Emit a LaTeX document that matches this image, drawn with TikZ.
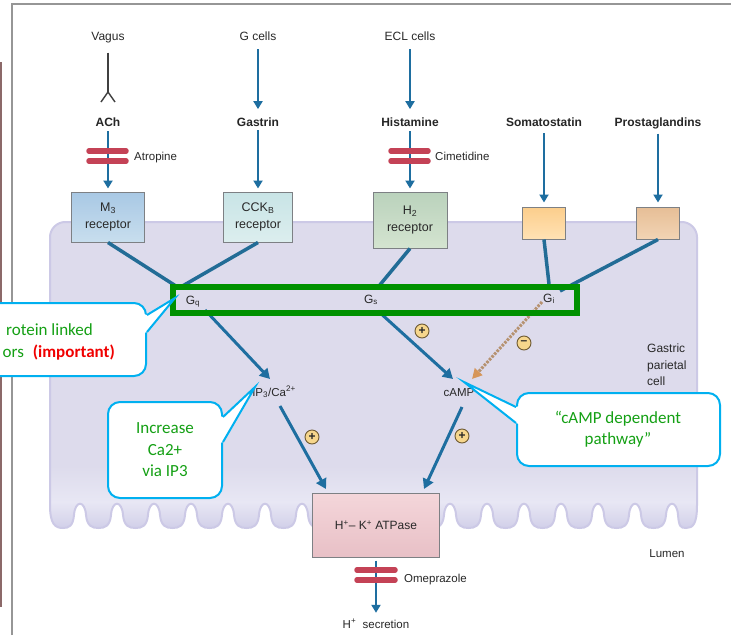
\documentclass[tikz,border=0pt]{standalone}
\usepackage{fontspec}
\setmainfont{Liberation Sans}
\newfontfamily\calibfont{Carlito}
\usetikzlibrary{arrows.meta,calc}
\definecolor{arrblue}{RGB}{30,110,160}
\definecolor{lineblue}{RGB}{34,108,150}
\definecolor{cellfill}{RGB}{221,219,236}
\definecolor{cellband}{RGB}{232,231,244}
\definecolor{celllobe}{RGB}{208,206,232}
\definecolor{celledge}{RGB}{204,201,230}
\definecolor{barred}{RGB}{196,66,86}
\definecolor{txtgray}{RGB}{40,40,40}
\definecolor{boxborder}{RGB}{125,128,132}
\definecolor{gboxc}{RGB}{0,145,0}
\definecolor{callblue}{RGB}{0,176,240}
\definecolor{callgreen}{RGB}{20,160,20}
\definecolor{impred}{RGB}{240,0,0}
\definecolor{framegray}{RGB}{150,150,150}
\definecolor{edgebrown}{RGB}{140,105,105}
\definecolor{mtop}{RGB}{168,200,228}
\definecolor{mbot}{RGB}{200,222,238}
\definecolor{ctop}{RGB}{200,228,230}
\definecolor{cbot}{RGB}{220,238,238}
\definecolor{htop}{RGB}{186,210,188}
\definecolor{hbot}{RGB}{212,228,208}
\definecolor{stop}{RGB}{252,206,140}
\definecolor{sbot}{RGB}{255,226,180}
\definecolor{ptop}{RGB}{230,190,150}
\definecolor{pbot}{RGB}{242,212,180}
\definecolor{atop}{RGB}{244,214,218}
\definecolor{abot}{RGB}{232,192,198}
\definecolor{signfill}{RGB}{246,214,140}
\definecolor{signedge}{RGB}{110,90,50}
\definecolor{dashtan}{RGB}{182,146,112}
\definecolor{tiporange}{RGB}{214,150,90}
\newcommand\cellshape{(50,237) .. controls (50,229) and (57,222) .. (65,222) -- (682,222)
 .. controls (690,222) and (697,229) .. (697,237) -- (697,505)
 .. controls (697,524) and (693,528) .. (686,528)
 .. controls (680,528) and (679,526) .. (678,515)
 .. controls (677,500) and (667,500) .. (666,515)
 \foreach \c in {635,598,...,80} {
   .. controls (\c+30,526) and (\c+25,528) .. (\c+18.5,528)
   .. controls (\c+12,528) and (\c+7,526) .. (\c+6,515)
   .. controls (\c+5,500) and (\c-5,500) .. (\c-6,515)
 }
 .. controls (73,526) and (69,528) .. (63,528)
 .. controls (55,528) and (50,524) .. (50,505) -- cycle}
\begin{document}
\begin{tikzpicture}[x=1pt,y=-1pt,
  lbl/.style={inner sep=0pt, text=txtgray, font=\fontsize{12}{14}\selectfont},
  blbl/.style={inner sep=0pt, text=black!85, font=\fontsize{12}{14}\selectfont\bfseries},
  smlbl/.style={inner sep=0pt, text=txtgray, font=\fontsize{11.5}{13}\selectfont},
  glbl/.style={inner sep=0pt, text=txtgray, font=\fontsize{12}{13}\selectfont},
  rbox/.style={draw=boxborder, line width=1pt, inner sep=0pt, align=center, text=txtgray, font=\fontsize{12.5}{17}\selectfont},
  inarrow/.style={draw=arrblue, line width=2pt, -{Triangle[length=8pt,width=9pt]}},
  vline/.style={draw=black!75, line width=1.4pt},
  drugbar/.style={draw=barred, line width=5.5pt, line cap=round},
  gline/.style={draw=lineblue, line width=3.5pt},
  carrow/.style={draw=arrblue, line width=3pt, -{Triangle[length=10pt,width=11pt]}},
  sign/.style={circle, draw=signedge, fill=signfill, line width=0.9pt, minimum size=14pt, inner sep=0pt, text=black!85, font=\fontsize{12}{12}\selectfont\bfseries},
  callout/.style={draw=callblue, fill=white, line width=2pt, rounded corners=12pt, inner sep=0pt},
  ctext/.style={inner sep=0pt, align=center, text=callgreen, font=\calibfont\fontsize{17}{21.5}\selectfont},
]
\useasboundingbox (0,0) rectangle (731,635);
\fill[white] (0,0) rectangle (731,635);
\clip (0,0) rectangle (731,635);

% page frame remnants
\draw[framegray, line width=1.2pt] (12,635) -- (12,4) -- (731,4);
\draw[edgebrown, line width=1.5pt] (0.75,62) -- (0.75,607);

% parietal cell body
\fill[cellfill] \cellshape;
\begin{scope}
  \clip \cellshape;
  \shade[top color=cellfill, bottom color=cellband] (40,466) rectangle (710,502);
  \shade[top color=cellband, bottom color=celllobe] (40,502) rectangle (710,530);
\end{scope}
\draw[celledge, line width=2pt] \cellshape;

% top labels
\node[lbl, anchor=base] (vagus) at (108,40) {Vagus};
\node[lbl, anchor=base] (gcells) at (258,40) {G cells};
\node[lbl, anchor=base] (ecl) at (410,40) {ECL cells};
\node[blbl, anchor=base] (ach) at (108,126) {ACh};
\node[blbl, anchor=base] (gastrin) at (258,126) {Gastrin};
\node[blbl, anchor=base] (hist) at (410,126) {Histamine};
\node[blbl, anchor=base] (somato) at (544,126) {Somatostatin};
\node[blbl, anchor=base] (prosta) at (658,126) {Prostaglandins};

% receptors
\node[rbox, minimum width=73pt, minimum height=50pt, top color=mtop, bottom color=mbot] (m3) at (108,217) {M\textsubscript{3}\\receptor};
\node[rbox, minimum width=69pt, minimum height=50pt, top color=ctop, bottom color=cbot] (cck) at (258,217) {CCK\textsubscript{B}\\receptor};
\node[rbox, minimum width=74pt, minimum height=56pt, top color=htop, bottom color=hbot] (h2) at (410,220) {H\textsubscript{2}\\receptor};
\node[rbox, minimum width=43pt, minimum height=32pt, top color=stop, bottom color=sbot] (sbox) at (544,223) {};
\node[rbox, minimum width=43pt, minimum height=32pt, top color=ptop, bottom color=pbot] (pbox) at (658,223) {};

% inputs
\coordinate (vfork) at (108,92);
\draw[vline, shorten <=10pt] (vagus) -- (vfork);
\draw[vline] (vfork) -- ++(-7,10);
\draw[vline] (vfork) -- ++(7,10);
\draw[inarrow, shorten <=9pt, shorten >=8pt] (gcells) -- (gastrin);
\draw[inarrow, shorten <=9pt, shorten >=8pt] (ecl) -- (hist);
\draw[inarrow, shorten <=5pt, shorten >=3pt] (ach) -- (m3);
\draw[inarrow, shorten <=4pt, shorten >=3pt] (gastrin) -- (cck);
\draw[inarrow, shorten <=5pt, shorten >=3pt] (hist) -- (h2);
\draw[inarrow, shorten <=7pt, shorten >=4pt] (somato) -- (sbox);
\draw[inarrow, shorten <=5pt, shorten >=4pt] (prosta) -- (pbox);

% blockers
\draw[drugbar] (89,151) -- (126,151);
\draw[drugbar] (89,161) -- (126,161);
\node[smlbl, anchor=base west] (atropine) at (134,160) {Atropine};
\draw[drugbar] (391,151) -- (428,151);
\draw[drugbar] (391,161) -- (428,161);
\node[smlbl, anchor=base west] (cimet) at (435,160) {Cimetidine};

% G protein hubs
\coordinate (gqhub) at (179,288);
\coordinate (gshub) at (379,286);
\coordinate (gihub) at (549,284);
\coordinate (gihub2) at (560,291);
\draw[gline] (m3.south) -- (gqhub);
\draw[gline] (cck.south) -- (gqhub);
\draw[gline] (h2.south) -- (gshub);
\draw[gline] (sbox.south) -- (gihub);
\draw[gline] (pbox.south) -- (gihub2);

% signalling arrows
\coordinate (gqout) at (205,310);
\coordinate (ip3in) at (270,379);
\coordinate (gsout) at (378,311);
\coordinate (campin) at (453,379);
\coordinate (giout) at (542,302);
\coordinate (campin2) at (472,379);
\coordinate (ip3out) at (280,406);
\coordinate (atpin1) at (326,489);
\coordinate (campout) at (462,407);
\coordinate (atpin2) at (424,489);
\draw[carrow] (gqout) -- (ip3in);
\draw[carrow] (gsout) -- (campin);
\draw[draw=dashtan, line width=3pt, dash pattern=on 2.5pt off 1.3pt, -{Triangle[length=10pt,width=10pt,color=tiporange]}] (giout) -- (campin2);
\draw[carrow] (ip3out) -- (atpin1);
\draw[carrow] (campout) -- (atpin2);

% highlighted G proteins
\node[draw=gboxc, line width=6pt, minimum width=404pt, minimum height=26pt, inner sep=0pt] (grect) at (375,300) {};
\node[glbl, anchor=base] (gq) at (193,304) {G\textsubscript{q}};
\node[glbl, anchor=base] (gs) at (371,303) {G\textsubscript{s}};
\node[glbl, anchor=base] (gi) at (549,302) {G\textsubscript{i}};

\node[smlbl, anchor=base] (ip3) at (274,396) {IP\textsubscript{3}/Ca\textsuperscript{2+}};
\node[smlbl, anchor=base] (camp) at (459,396) {cAMP};

\node[sign] (s1) at (422,331) {+};
\node[sign] (s2) at (524,343) {\raisebox{0.5pt}{–}};
\node[sign] (s3) at (312,437) {+};
\node[sign] (s4) at (462,436) {+};

% pump
\node[rbox, minimum width=127pt, minimum height=64pt, top color=atop, bottom color=abot, font=\fontsize{12}{14}\selectfont] (atp) at (376,525) {H\textsuperscript{+}– K\textsuperscript{+} ATPase};
\node[smlbl, anchor=base] (hsec) at (376,628) {H\textsuperscript{+}\ \ secretion};
\draw[inarrow, shorten <=3pt, shorten >=6pt] (atp) -- (hsec);
\draw[drugbar] (357,570) -- (395,570);
\draw[drugbar] (357,580) -- (395,580);
\node[smlbl, anchor=base west] (omep) at (404,582) {Omeprazole};

\node[lbl, anchor=west, align=left, font=\fontsize{12}{16.5}\selectfont] (gpc) at (647,365) {Gastric\\parietal\\cell};
\node[smlbl, anchor=base] (lumen) at (667,557) {Lumen};

% callout 1
\node[callout, minimum width=206pt, minimum height=73pt] (c1) at (43,339.5) {};
\coordinate (c1tip) at (175,298);
\fill[white] ($(c1.east)+(-3,-25.5)$) -- ($(c1.east)+(0,-24.5)$) -- (c1tip) -- ($(c1.east)+(0,-7.5)$) -- ($(c1.east)+(-3,-6.5)$) -- cycle;
\draw[callblue, line width=2pt] ($(c1.east)+(0,-24.5)$) -- (c1tip) -- ($(c1.east)+(0,-7.5)$);
\node[inner sep=0pt, anchor=base east, text=callgreen, font=\calibfont\fontsize{17}{21.5}\selectfont] (c1a) at (93,335) {rotein linked};
\node[inner sep=0pt, anchor=base east, text=callgreen, font=\calibfont\fontsize{17}{21.5}\selectfont] (c1b) at (115,357) {ors\hspace{9pt}\textcolor{impred}{\bfseries(important)}};

% callout 2
\node[callout, minimum width=114pt, minimum height=96pt] (c2) at (165,450) {};
\coordinate (c2tip) at (255,387);
\fill[white] ($(c2.east)+(-3,-34)$) -- ($(c2.east)+(0,-33)$) -- (c2tip) -- ($(c2.east)+(0,-8)$) -- ($(c2.east)+(-3,-7)$) -- cycle;
\draw[callblue, line width=2pt] ($(c2.east)+(0,-33)$) -- (c2tip) -- ($(c2.east)+(0,-8)$);
\node[ctext] (c2t) at (165,450) {Increase\\Ca2+\\via IP3};

% callout 3
\node[callout, minimum width=203pt, minimum height=73pt] (c3) at (618.5,429.5) {};
\coordinate (c3tip) at (464,382);
\fill[white] ($(c3.west)+(3,-23.5)$) -- ($(c3.west)+(0,-22.5)$) -- (c3tip) -- ($(c3.west)+(0,-6.5)$) -- ($(c3.west)+(3,-5.5)$) -- cycle;
\draw[callblue, line width=2pt] ($(c3.west)+(0,-22.5)$) -- (c3tip) -- ($(c3.west)+(0,-6.5)$);
\node[ctext] (c3t) at (618,429) {“cAMP dependent\\pathway”};
\end{tikzpicture}
\end{document}
